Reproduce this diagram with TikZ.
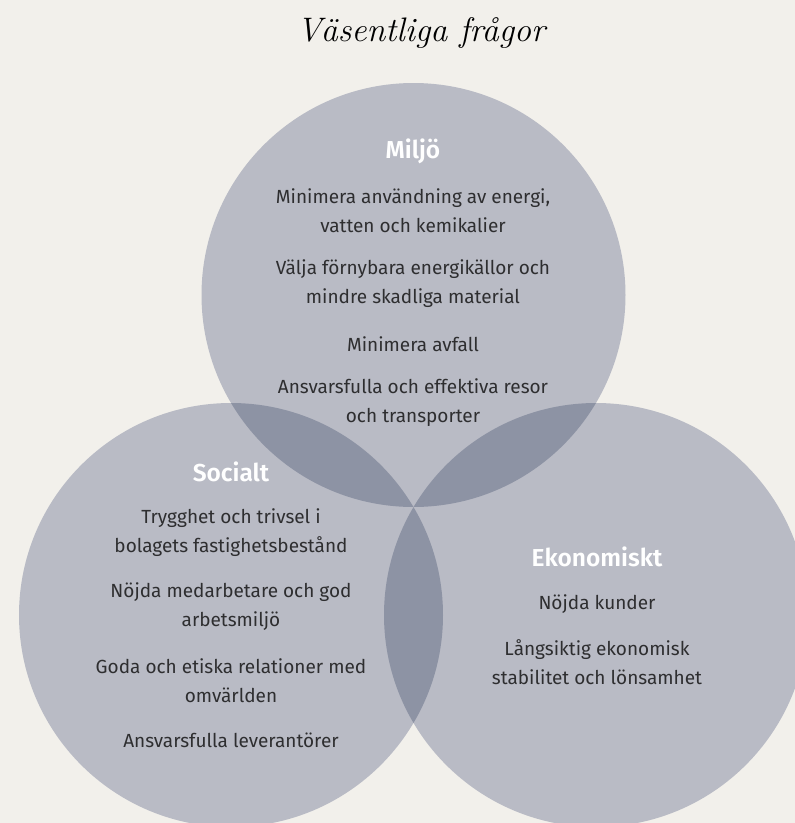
\documentclass[tikz,border=0pt]{standalone}
\usepackage{fontspec}
\setmainfont{Fira Sans}[BoldFont={Fira Sans SemiBold}]
\newfontfamily\titlefont{Latin Modern Roman}
\definecolor{paper}{HTML}{F2F0EB}
\definecolor{disc}{HTML}{B9BBC5}
\definecolor{lens}{HTML}{8D93A4}
\definecolor{ink}{HTML}{2E2E30}
\def\rad{212pt}

\begin{document}
\begin{tikzpicture}[x=1pt,y=-1pt,
  topic/.style={font=\fontsize{24.5}{28}\selectfont\bfseries,text=white},
  item/.style={font=\fontsize{19}{29}\selectfont,text=ink,align=center}]

  \fill[paper] (0,0) rectangle (795,823);
  \clip (0,0) rectangle (795,823);

  \coordinate (cm) at (413.5,295);
  \coordinate (cs) at (231,615);
  \coordinate (ce) at (596,615);

  % the three discs and their pairwise overlaps
  \foreach \c in {cm,cs,ce}
    \fill[disc] (\c) circle (\rad);
  \foreach \a/\b in {cm/cs,cm/ce,cs/ce}{
    \begin{scope}
      \clip (\a) circle (\rad);
      \fill[lens] (\b) circle (\rad);
    \end{scope}
  }

  \node[font={\titlefont\itshape\fontsize{34}{38}\selectfont},text=black] (title) at (421,33) {Väsentliga frågor};

  \node[topic] (miljo) at (413,151) {Miljö};
  \node[item] (m1) at (413,210.5) {Minimera användning av energi,\\vatten och kemikalier};
  \node[item] (m2) at (413,284) {Välja förnybara energikällor och\\mindre skadliga material};
  \node[item] (m3) at (413,344) {Minimera avfall};
  \node[item] (m4) at (413,402.5) {Ansvarsfulla och effektiva resor\\och transporter};

  \node[topic] (socialt) at (231,472) {Socialt};
  \node[item] (s1) at (231,533) {Trygghet och trivsel i\\bolagets fastighetsbestånd};
  \node[item] (s2) at (231,607) {Nöjda medarbetare och god\\arbetsmiljö};
  \node[item] (s3) at (231,680.5) {Goda och etiska relationer med\\omvärlden};
  \node[item] (s4) at (231,740) {Ansvarsfulla leverantörer};

  \node[topic] (ekon) at (597,557) {Ekonomiskt};
  \node[item] (e1) at (597,604) {Nöjda kunder};
  \node[item] (e2) at (597,662.5) {Långsiktig ekonomisk\\stabilitet och lönsamhet};

\end{tikzpicture}
\end{document}
